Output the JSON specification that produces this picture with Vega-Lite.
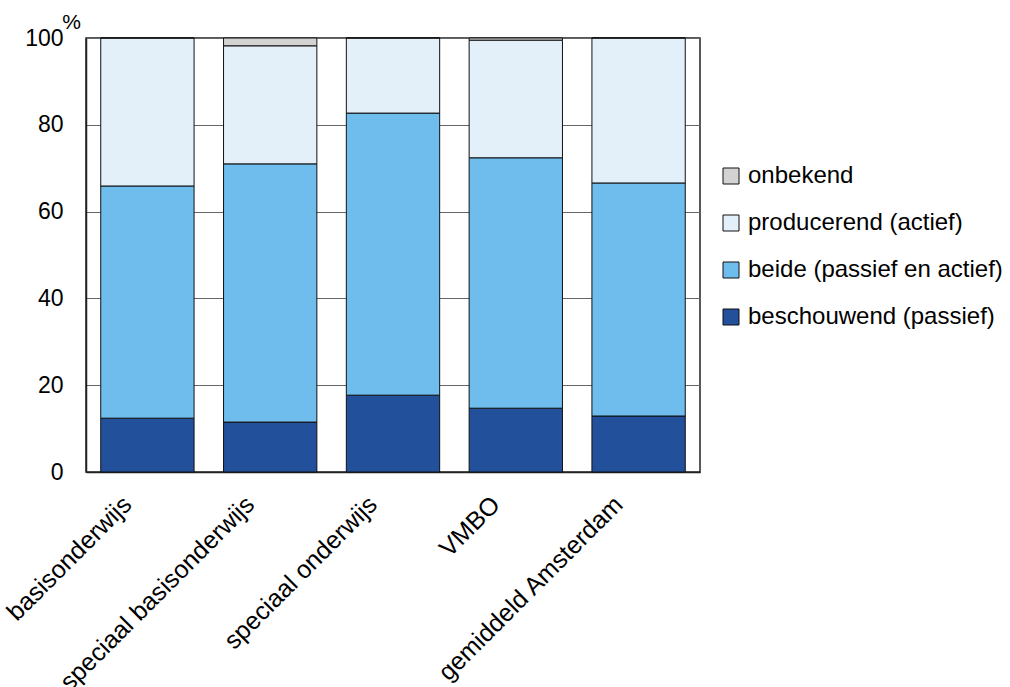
{
  "$schema": "https://vega.github.io/schema/vega-lite/v6.json",
  "width": 614,
  "height": 434,
  "autosize": {"type": "none"},
  "padding": {"left": 86, "top": 38, "right": 310, "bottom": 215},
  "background": "white",
  "config": {
    "font": "Liberation Sans",
    "view": {"stroke": "#222222", "strokeWidth": 1.5},
    "axis": {"labelFont": "Liberation Sans", "titleFont": "Liberation Sans"},
    "legend": {"labelFont": "Liberation Sans"}
  },
  "data": {
    "values": [
      {"categorie": "basisonderwijs", "type": "beschouwend (passief)", "waarde": 12.4, "o": 1},
      {"categorie": "basisonderwijs", "type": "beide (passief en actief)", "waarde": 53.5, "o": 2},
      {"categorie": "basisonderwijs", "type": "producerend (actief)", "waarde": 34.1, "o": 3},
      {"categorie": "basisonderwijs", "type": "onbekend", "waarde": 0, "o": 4},
      {"categorie": "speciaal basisonderwijs", "type": "beschouwend (passief)", "waarde": 11.5, "o": 1},
      {"categorie": "speciaal basisonderwijs", "type": "beide (passief en actief)", "waarde": 59.5, "o": 2},
      {"categorie": "speciaal basisonderwijs", "type": "producerend (actief)", "waarde": 27.2, "o": 3},
      {"categorie": "speciaal basisonderwijs", "type": "onbekend", "waarde": 1.8, "o": 4},
      {"categorie": "speciaal onderwijs", "type": "beschouwend (passief)", "waarde": 17.7, "o": 1},
      {"categorie": "speciaal onderwijs", "type": "beide (passief en actief)", "waarde": 65.0, "o": 2},
      {"categorie": "speciaal onderwijs", "type": "producerend (actief)", "waarde": 17.3, "o": 3},
      {"categorie": "speciaal onderwijs", "type": "onbekend", "waarde": 0, "o": 4},
      {"categorie": "VMBO", "type": "beschouwend (passief)", "waarde": 14.7, "o": 1},
      {"categorie": "VMBO", "type": "beide (passief en actief)", "waarde": 57.7, "o": 2},
      {"categorie": "VMBO", "type": "producerend (actief)", "waarde": 27.1, "o": 3},
      {"categorie": "VMBO", "type": "onbekend", "waarde": 0.5, "o": 4},
      {"categorie": "gemiddeld Amsterdam", "type": "beschouwend (passief)", "waarde": 12.9, "o": 1},
      {"categorie": "gemiddeld Amsterdam", "type": "beide (passief en actief)", "waarde": 53.7, "o": 2},
      {"categorie": "gemiddeld Amsterdam", "type": "producerend (actief)", "waarde": 33.4, "o": 3},
      {"categorie": "gemiddeld Amsterdam", "type": "onbekend", "waarde": 0, "o": 4}
    ]
  },
  "mark": {"type": "bar", "stroke": "#111111", "strokeWidth": 1},
  "encoding": {
    "x": {
      "field": "categorie",
      "type": "nominal",
      "sort": null,
      "scale": {"paddingInner": 0.24, "paddingOuter": 0.12},
      "axis": {
        "title": null,
        "labelAngle": -45,
        "labelAlign": "right",
        "labelBaseline": "middle",
        "labelFontSize": 25,
        "labelColor": "#000000",
        "labelPadding": 28,
        "labelOffset": -20,
        "ticks": false,
        "domainColor": "#222222",
        "domainWidth": 1.5,
        "labelLimit": 400
      }
    },
    "y": {
      "field": "waarde",
      "type": "quantitative",
      "stack": "zero",
      "scale": {"domain": [0, 100], "nice": false},
      "axis": {
        "title": "%",
        "titleAngle": 0,
        "titleX": -15,
        "titleY": -16,
        "titleAlign": "center",
        "titleBaseline": "middle",
        "titleFontSize": 21,
        "titleFontWeight": "normal",
        "titleColor": "#000000",
        "values": [0, 20, 40, 60, 80, 100],
        "labelFontSize": 23,
        "labelColor": "#000000",
        "labelPadding": 23,
        "ticks": false,
        "domainColor": "#222222",
        "domainWidth": 1.5,
        "grid": true,
        "gridColor": "#666666",
        "gridWidth": 1
      }
    },
    "color": {
      "field": "type",
      "type": "nominal",
      "scale": {
        "domain": ["onbekend", "producerend (actief)", "beide (passief en actief)", "beschouwend (passief)"],
        "range": ["#d3d3d3", "#e3f0fa", "#6fbdec", "#23509b"]
      },
      "legend": {
        "title": null,
        "orient": "none",
        "legendX": 633,
        "legendY": 126,
        "symbolType": "square",
        "symbolSize": 256,
        "symbolStrokeColor": "#111111",
        "symbolStrokeWidth": 1,
        "labelFontSize": 24,
        "labelColor": "#000000",
        "labelOffset": 5,
        "rowPadding": 23,
        "labelLimit": 400
      }
    },
    "order": {"field": "o", "type": "quantitative", "sort": "ascending"}
  }
}
